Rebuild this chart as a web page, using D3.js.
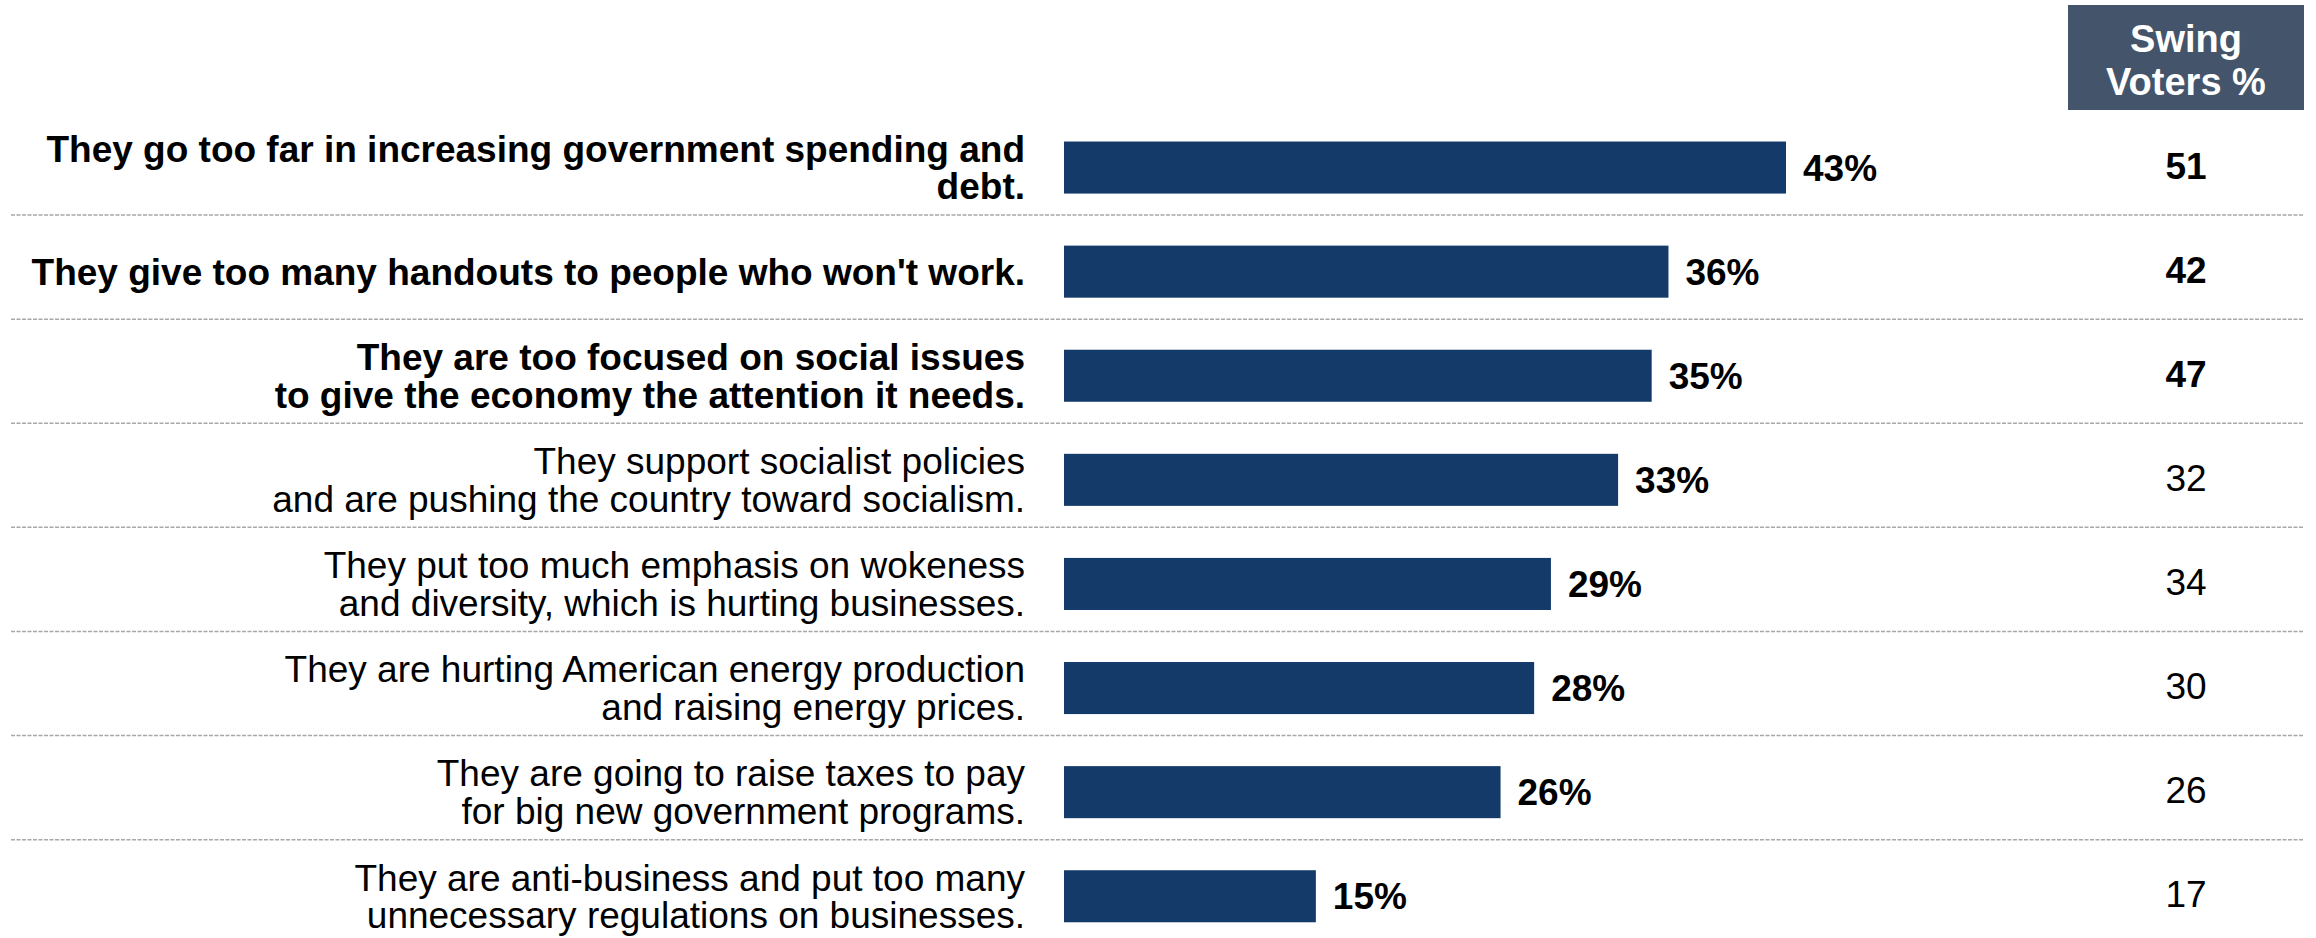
<!DOCTYPE html>
<html>
<head>
<meta charset="utf-8">
<script src="https://cdn.jsdelivr.net/npm/d3@7"></script>
<style>
  html, body { margin: 0; padding: 0; background: #ffffff; }
  svg { display: block; }
  text { font-family: "Liberation Sans", Arial, sans-serif; }
</style>
</head>
<body>
<svg id="chart" width="2316" height="938"></svg>
<script>
// Statements (each line of a label is one entry)
const statements = [
  ["They go too far in increasing government spending and", "debt."],
  ["They give too many handouts to people who won't work."],
  ["They are too focused on social issues", "to give the economy the attention it needs."],
  ["They support socialist policies", "and are pushing the country toward socialism."],
  ["They put too much emphasis on wokeness", "and diversity, which is hurting businesses."],
  ["They are hurting American energy production", "and raising energy prices."],
  ["They are going to raise taxes to pay", "for big new government programs."],
  ["They are anti-business and put too many", "unnecessary regulations on businesses."]
];
// Share of all respondents (%)
const totalPct = [43, 36, 35, 33, 29, 28, 26, 15];
// Share of swing voters (%)
const swingPct = [51, 42, 47, 32, 34, 30, 26, 17];
// Rows shown in bold
const emphasized = [true, true, true, false, false, false, false, false];
const swingHeader = ["Swing", "Voters %"];

const svg = d3.select("#chart");
const ids = statements.map((_, i) => i);

const y = d3.scaleBand()
  .domain(ids)
  .range([115.5, 948.3])
  .paddingInner(0.5)
  .paddingOuter(0.25);

const x = d3.scaleLinear()
  .domain([0, 43])
  .range([1064, 1786]);

const FS = 37;
const LH = 37.5;
const labelRight = 1025;
const swingX = 2186;

// Dotted separators between rows
svg.append("g")
  .selectAll("line")
  .data(ids.slice(0, -1))
  .join("line")
  .attr("x1", 11)
  .attr("x2", 2304)
  .attr("y1", d => y(d) + y.bandwidth() / 2 + 47.5)
  .attr("y2", d => y(d) + y.bandwidth() / 2 + 47.5)
  .attr("stroke", "#a8a8a8")
  .attr("stroke-width", 1.5)
  .attr("stroke-dasharray", "4,1.5");

// Bars
svg.append("g")
  .selectAll("rect")
  .data(ids)
  .join("rect")
  .attr("x", x(0))
  .attr("y", d => y(d))
  .attr("width", d => x(totalPct[d]) - x(0))
  .attr("height", y.bandwidth())
  .attr("fill", "#143a6a");

// Value labels on bars
svg.append("g")
  .selectAll("text")
  .data(ids)
  .join("text")
  .attr("x", d => x(totalPct[d]) + 17)
  .attr("y", d => y(d) + y.bandwidth() / 2 + 13)
  .attr("font-size", FS)
  .attr("font-weight", "bold")
  .attr("fill", "#000")
  .text(d => totalPct[d] + "%");

// Statement labels, right aligned
const labels = svg.append("g")
  .selectAll("text")
  .data(ids)
  .join("text")
  .attr("text-anchor", "end")
  .attr("font-size", FS)
  .attr("font-weight", d => emphasized[d] ? "bold" : "normal")
  .attr("fill", "#000");

labels.each(function (d) {
  const lines = statements[d];
  const c = y(d) + y.bandwidth() / 2;
  d3.select(this).selectAll("tspan")
    .data(lines)
    .join("tspan")
    .attr("x", labelRight)
    .attr("y", (t, i) => c + (i - (lines.length - 1) / 2) * LH + 13)
    .text(t => t);
});

// Swing voter column header
svg.append("rect")
  .attr("x", 2068)
  .attr("y", 5)
  .attr("width", 236)
  .attr("height", 105)
  .attr("fill", "#44546a");

svg.append("g")
  .selectAll("text")
  .data(swingHeader)
  .join("text")
  .attr("x", swingX)
  .attr("y", (t, i) => 52 + i * 43)
  .attr("text-anchor", "middle")
  .attr("font-size", 38)
  .attr("font-weight", "bold")
  .attr("fill", "#ffffff")
  .text(t => t);

// Swing voter values
svg.append("g")
  .selectAll("text")
  .data(ids)
  .join("text")
  .attr("x", swingX)
  .attr("y", d => y(d) + y.bandwidth() / 2 + 11)
  .attr("text-anchor", "middle")
  .attr("font-size", FS)
  .attr("font-weight", d => emphasized[d] ? "bold" : "normal")
  .attr("fill", "#000")
  .text(d => swingPct[d]);
</script>
</body>
</html>
